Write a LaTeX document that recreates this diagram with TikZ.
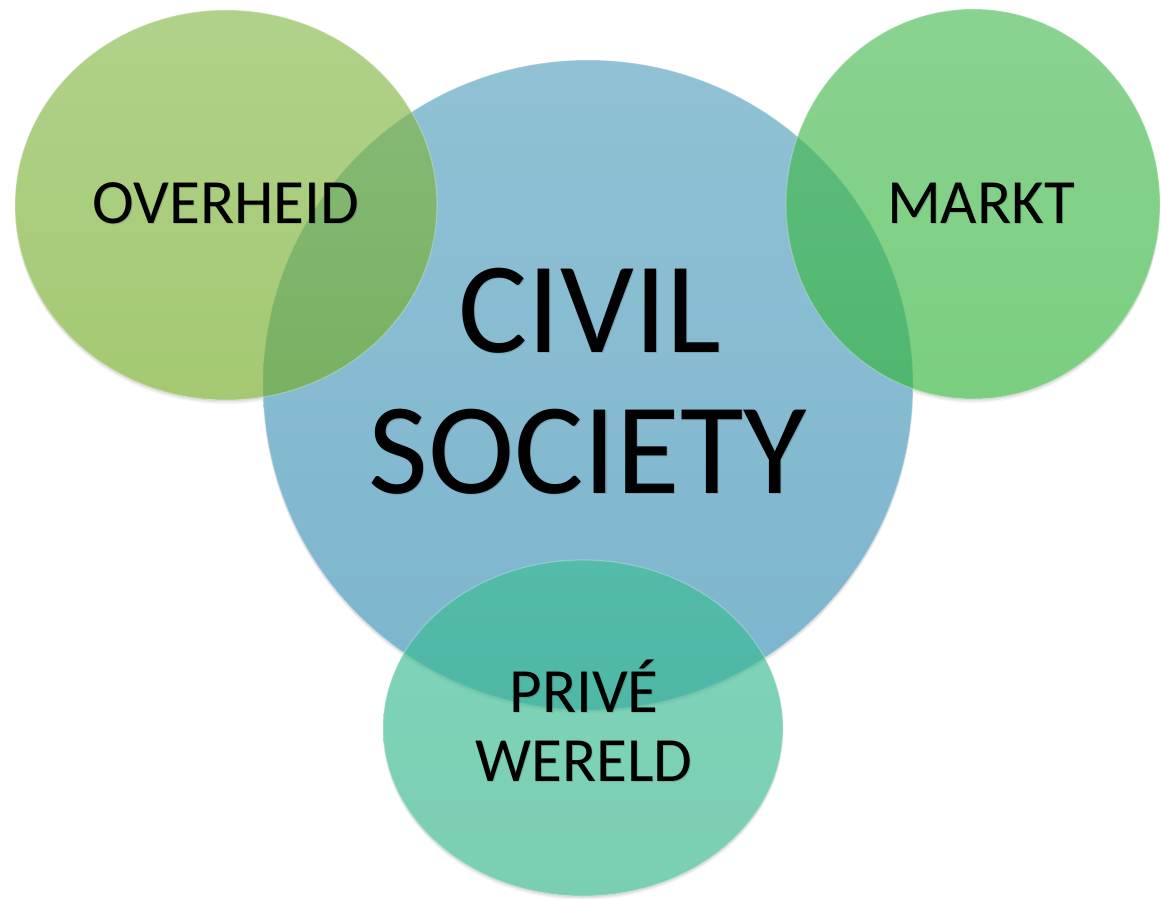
\documentclass[tikz,border=0pt]{standalone}
\usepackage{fontspec}
\setmainfont{Carlito}
\definecolor{blueT}{RGB}{144,193,212}
\definecolor{blueB}{RGB}{124,181,206}
\definecolor{ovT}{RGB}{134,185,75}
\definecolor{ovB}{RGB}{115,172,38}
\definecolor{mkT}{RGB}{75,186,86}
\definecolor{mkB}{RGB}{51,182,58}
\definecolor{pvT}{RGB}{60,189,149}
\definecolor{pvB}{RGB}{51,180,137}
\newcommand{\shtext}[5]{%
  \node[#4, text=black, opacity=0.12] at (#2+1,#3+1.5) {#5};
  \node[#4] (#1) at (#2,#3) {#5};}
\begin{document}
\begin{tikzpicture}[x=1pt,y=-1pt,
  lbl/.style={font=\fontsize{63}{69}\selectfont, anchor=base, inner sep=0pt},
  big/.style={font=\fontsize{130}{141}\selectfont, anchor=base, inner sep=0pt},
  blob/.style={fill opacity=0.65, draw=white, draw opacity=0.25, line width=1.2pt},
]
\useasboundingbox (0,0) rectangle (1161,898);
% soft drop shadows outside each shape
\foreach \cx/\cy/\rx/\ry in {588/385/325/325, 226/205/211/195, 973/204/187/195, 583/728/200/168} {
  \begin{scope}[even odd rule]
    \clip (-20,-20) rectangle (1200,950) (\cx,\cy) ellipse [x radius=\rx pt, y radius=\ry pt];
    \foreach \d/\o in {1/0.08, 2.5/0.06, 4/0.04}
      \fill[black, opacity=\o] (\cx,\cy+\d) ellipse [x radius=\rx pt, y radius=\ry pt];
  \end{scope}
}
% civil society circle
\path[top color=blueT, bottom color=blueB, draw=white, draw opacity=0.25, line width=1.2pt] (588,385) circle [radius=325pt];
% outer circles
\path[blob, top color=ovT, bottom color=ovB] (226,205) ellipse [x radius=211pt, y radius=195pt];
\path[blob, top color=mkT, bottom color=mkB] (973,204) ellipse [x radius=187pt, y radius=195pt];
\path[blob, top color=pvT, bottom color=pvB] (583,728) ellipse [x radius=200pt, y radius=168pt];
% texts
\shtext{civil}{590}{352}{big}{CIVIL}
\shtext{society}{588}{493}{big}{SOCIETY}
\shtext{overheid}{226}{223}{lbl}{OVERHEID}
\shtext{markt}{981}{223}{lbl}{MARKT}
\shtext{prive}{584}{712}{lbl}{PRIVÉ}
\shtext{wereld}{584}{781}{lbl}{WERELD}
\end{tikzpicture}
\end{document}
